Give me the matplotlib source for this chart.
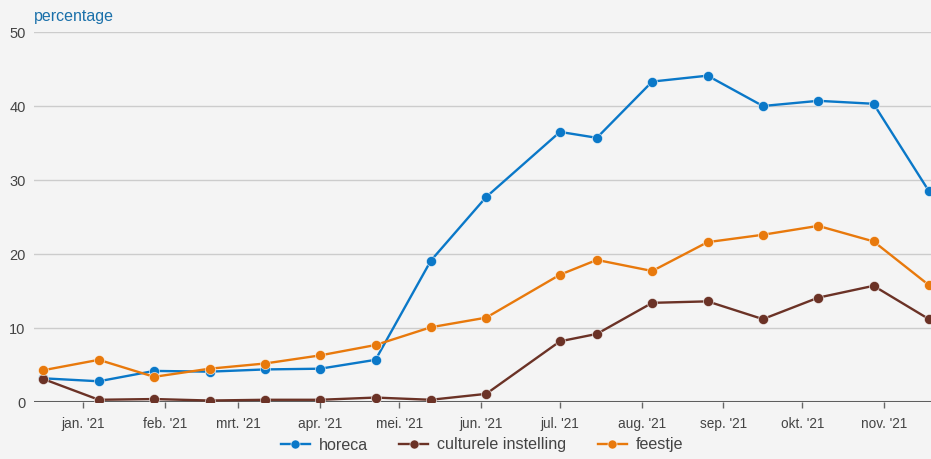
import matplotlib
matplotlib.use("Agg")
import matplotlib.pyplot as plt
import matplotlib.dates as mdates
import pandas as pd

plt.rcParams['font.family'] = ['Liberation Sans', 'DejaVu Sans']

dates = ["2020-12-17", "2021-01-07", "2021-01-28", "2021-02-18", "2021-03-11",
         "2021-04-01", "2021-04-22", "2021-05-13", "2021-06-03", "2021-07-01",
         "2021-07-15", "2021-08-05", "2021-08-26", "2021-09-16", "2021-10-07",
         "2021-10-28", "2021-11-18"]
horeca = [3.2, 2.8, 4.2, 4.1, 4.4, 4.5, 5.7, 19.1, 27.7, 36.5, 35.7, 43.3, 44.1,
          40.0, 40.7, 40.3, 28.5]
culturele = [3.1, 0.3, 0.4, 0.2, 0.3, 0.3, 0.6, 0.3, 1.1, 8.2, 9.2, 13.4, 13.6,
             11.2, 14.1, 15.7, 11.2]
feestje = [4.3, 5.7, 3.4, 4.5, 5.2, 6.3, 7.7, 10.1, 11.4, 17.2, 19.2, 17.7, 21.6,
           22.6, 23.8, 21.7, 15.8]
series_names = ["horeca", "culturele instelling", "feestje"]
month_ticks = ["2021-01-01", "2021-02-01", "2021-03-01", "2021-04-01", "2021-05-01",
               "2021-06-01", "2021-07-01", "2021-08-01", "2021-09-01", "2021-10-01",
               "2021-11-01"]
month_labels = ["jan. '21", "feb. '21", "mrt. '21", "apr. '21", "mei. '21", "jun. '21",
                "jul. '21", "aug. '21", "sep. '21", "okt. '21", "nov. '21"]
y_ticks = [0, 10, 20, 30, 40, 50]

colors = ["#0a78c8", "#6b3226", "#e8790c"]
bg = "#f4f4f4"

x = mdates.date2num(pd.to_datetime(dates))
xt = mdates.date2num(pd.to_datetime(month_ticks))
jan1 = mdates.date2num(pd.Timestamp("2021-01-01"))

fig = plt.figure(figsize=(9.31, 4.59), dpi=100, facecolor=bg)
ax = fig.add_axes([34/931, 57/459, 897/931, 370/459], facecolor=bg)

for vals, name, c in zip([horeca, culturele, feestje], series_names, colors):
    ax.plot(x, vals, color=c, lw=1.7, marker='o', markersize=7.3,
            markeredgecolor='#ffffffaa', markeredgewidth=0.6, label=name, zorder=3)

ax.set_ylim(0, 50)
ax.set_xlim(jan1 - 18.6, jan1 + 321.8)
ax.set_yticks(y_ticks)
ax.yaxis.grid(True, color='#cccccc', lw=1)
ax.set_axisbelow(True)
ax.axhline(0, color='#5e5e5e', lw=2.2, zorder=2)
for s in ax.spines.values():
    s.set_visible(False)
ax.tick_params(axis='y', length=0, labelsize=10.5, labelcolor='#444444', pad=6)
ax.set_xticks(xt)
ax.set_xticklabels(month_labels)
ax.tick_params(axis='x', length=4, width=1, color='#666666', direction='out',
               labelsize=9.8, labelcolor='#444444', pad=7)

fig.text(34/931, 1 - 16/459, "percentage", color='#1a70aa', fontsize=11.5,
         va='center', ha='left')

leg = fig.legend(loc='center', bbox_to_anchor=(482/931, 1 - 445/459), ncol=3,
                 frameon=False, fontsize=11.6, handlelength=1.8, columnspacing=1.95,
                 handletextpad=0.55, labelcolor='#444444')
for h in leg.legend_handles:
    h.set_markersize(6.5)

fig.savefig("out.png", dpi=100, facecolor=bg)
